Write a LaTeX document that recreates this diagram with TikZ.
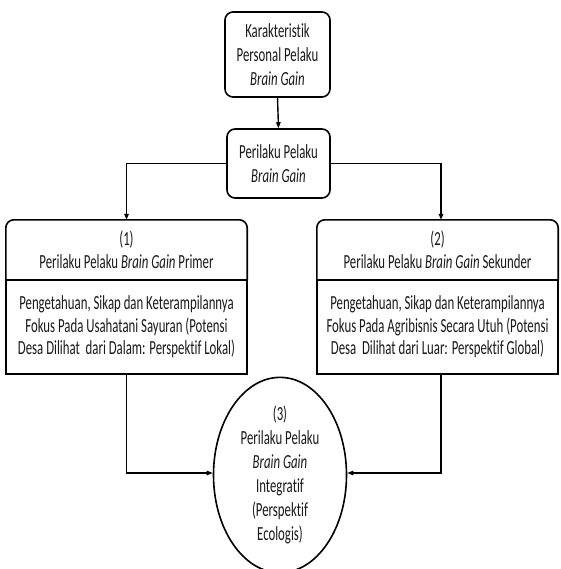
\documentclass[tikz,border=0pt]{standalone}
\usepackage{fontspec}
\setmainfont{Carlito}[FakeStretch=0.64, Ligatures=CommonOff]
\usetikzlibrary{shapes.geometric,arrows.meta}
\definecolor{inkgray}{RGB}{25,25,25}

\begin{document}
\begin{tikzpicture}[x=1pt,y=-1pt,
  every node/.style={font=\fontsize{20}{22.5}\selectfont, align=center,
    inner sep=0pt, text=inkgray},
  rbox/.style={draw, line width=1.6pt, rounded corners=8pt},
  plainbox/.style={draw, line width=1.6pt, minimum width=241pt, minimum height=94pt},
  titlebox/.style={minimum width=241pt, minimum height=60pt},
  roundtop/.style={line width=1.6pt, rounded corners=8pt},
  arr/.style={-{Triangle[length=6pt,width=4.5pt]}, line width=1.4pt}
]
\useasboundingbox (0,0) rectangle (560,569);

% top boxes
\node[rbox, minimum width=105pt, minimum height=85pt,
  font=\fontsize{20}{24}\selectfont] (char) at (277.5,54.5)
  {Karakteristik\\Personal Pelaku\\\textit{Brain Gain}};
\node[rbox, minimum width=103pt, minimum height=69pt,
  font=\fontsize{20}{24}\selectfont] (beh) at (278.5,163.5)
  {Perilaku Pelaku\\\textit{Brain Gain}};

% (1) primary
\node[titlebox] (p1t) at (126.5,250)
  {(1)\\Perilaku Pelaku \textit{Brain Gain} Primer};
\node[plainbox] (p1b) at (126.5,327)
  {Pengetahuan, Sikap dan Keterampilannya\\
   Fokus Pada Usahatani Sayuran (Potensi\\
   Desa Dilihat\ \ dari Dalam: Perspektif Lokal)};
\draw[roundtop] (p1t.south west) -- (p1t.north west) -- (p1t.north east) -- (p1t.south east);

% (2) secondary
\node[titlebox] (p2t) at (437.5,250)
  {(2)\\Perilaku Pelaku \textit{Brain Gain} Sekunder};
\node[plainbox] (p2b) at (437.5,327)
  {Pengetahuan, Sikap dan Keterampilannya\\
   Fokus Pada Agribisnis Secara Utuh (Potensi\\
   Desa\ \ Dilihat dari Luar: Perspektif Global)};
\draw[roundtop] (p2t.south west) -- (p2t.north west) -- (p2t.north east) -- (p2t.south east);

% (3) integrative
\node[draw, ellipse, line width=1.6pt, minimum width=133pt, minimum height=184pt,
  font=\fontsize{20}{24}\selectfont] (integ) at (280,475)
  {(3)\\Perilaku Pelaku\\\textit{Brain Gain}\\Integratif\\(Perspektif\\Ecologis)};

% connectors
\coordinate (p2in) at ([xshift=3.5pt]p2t.north);
\coordinate (p2out) at ([xshift=3.5pt]p2b.south);
\draw[arr] (char.south) -- (beh.north);
\draw[arr] (beh.west) -| (p1t.north);
\draw[arr] (beh.east) -| (p2in);
\draw[arr] (p1b.south) |- ([yshift=2pt]integ.west);
\draw[arr] (p2out) |- ([yshift=2pt]integ.east);
\end{tikzpicture}
\end{document}
